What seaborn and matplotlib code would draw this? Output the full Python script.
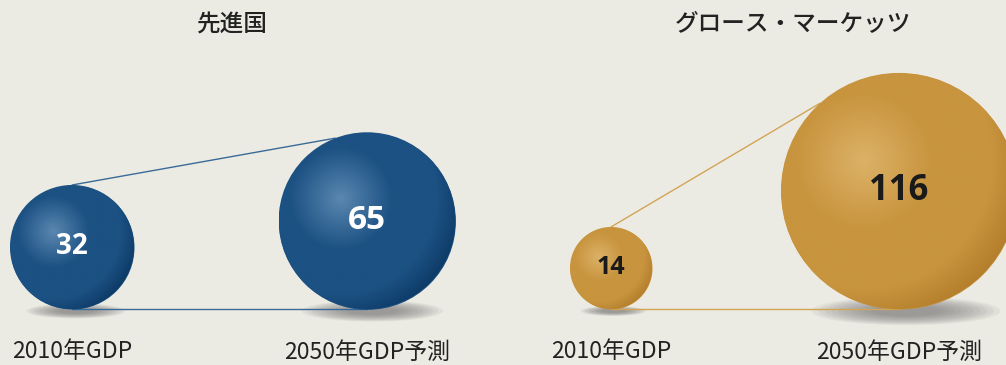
import numpy as np
import pandas as pd
import matplotlib
matplotlib.use("Agg")
import matplotlib.pyplot as plt
from matplotlib.patches import Circle, Ellipse
from matplotlib.colors import LinearSegmentedColormap
import seaborn as sns

# ---- data ----
regions = ["先進国", "グロース・マーケッツ"]
gdp_2010 = [32, 14]
gdp_2050 = [65, 116]
year_labels = ["2010年GDP", "2050年GDP予測"]

# ---- style / layout ----
sns.set_theme(style="white")
plt.rcParams['font.family'] = ['Noto Sans CJK JP', 'DejaVu Sans']

W, H = 1006, 365
bg = "#ecebe3"
centers_x = [[72, 367], [611, 899]]
baseline = 309
k = 62 / np.sqrt(32)          # pixel radius per sqrt(value) (area-proportional)
title_x = [232, 793]
title_y = 25
label_y = 352
num_sizes = [[20, 24], [18, 25]]
line_angles = [111, 132]      # where the connector meets the big circle (deg)
palettes = [
    dict(hi="#5a87b0", base="#1c5183", dark="#0b3762", line="#3a6a98", text="white"),
    dict(hi="#dcb267", base="#c8943e", dark="#b07a28", line="#d2a456", text="#1a1a1a"),
]

fig = plt.figure(figsize=(W / 100, H / 100), dpi=100)
fig.patch.set_facecolor(bg)
ax = fig.add_axes([0, 0, 1, 1])
ax.set_facecolor(bg)

df = pd.DataFrame({
    "region": np.repeat(regions, 2),
    "year": year_labels * 2,
    "value": [gdp_2010[0], gdp_2050[0], gdp_2010[1], gdp_2050[1]],
})


def shadow(cx, r):
    for i in range(10):
        f = 1 - i * 0.07
        ax.add_patch(Ellipse((cx + 0.06 * r, baseline + 2), 1.6 * r * f, 0.24 * r * f,
                             facecolor="#6a6a6a", edgecolor="none", alpha=0.085, zorder=1))


def sphere(cx, cy, r, pal, z):
    n = 300
    xs = np.linspace(cx - r, cx + r, n)
    ys = np.linspace(cy - r, cy + r, n)
    X, Y = np.meshgrid(xs, ys)
    hx, hy = cx - 0.3 * r, cy - 0.25 * r
    d = np.clip(np.hypot(X - hx, Y - hy) / (1.45 * r), 0, 1)
    cmap = LinearSegmentedColormap.from_list(
        "s", [(0, pal["hi"]), (0.4, pal["base"]), (0.75, pal["base"]), (1, pal["dark"])])
    im = ax.imshow(d, cmap=cmap, vmin=0, vmax=1, extent=(cx - r, cx + r, cy + r, cy - r),
                   origin="upper", zorder=z, interpolation="bilinear", aspect="auto")
    im.set_clip_path(Circle((cx, cy), r, transform=ax.transData))


for i, reg in enumerate(regions):
    pal = palettes[i]
    sub = df[df["region"] == reg].reset_index(drop=True)
    radii = k * np.sqrt(sub["value"].to_numpy())
    xs = centers_x[i]
    ys = [baseline - r for r in radii]

    # shadows
    for x, r in zip(xs, radii):
        shadow(x, r)

    # connector lines
    ang = np.deg2rad(line_angles[i])
    x0, y0 = xs[0], ys[0] - radii[0]
    x1, y1 = xs[1] + radii[1] * np.cos(ang), ys[1] - radii[1] * np.sin(ang)
    sns.lineplot(x=[x0, x1], y=[y0, y1], color=pal["line"], lw=1.0, ax=ax, zorder=2,
                 estimator=None, sort=False)
    sns.lineplot(x=[xs[0], xs[1]], y=[baseline, baseline], color=pal["line"], lw=1.0,
                 ax=ax, zorder=2, estimator=None, sort=False)

    # circles (base markers via seaborn, shaded overlay)
    for x, y, r in zip(xs, ys, radii):
        s = (2 * r * 72 / 100) ** 2
        sns.scatterplot(x=[x], y=[y], s=s, color=pal["base"], linewidth=0, ax=ax,
                        legend=False, zorder=3)
        sphere(x, y, r, pal, 4)

    # value labels
    for j, (x, y, v) in enumerate(zip(xs, ys, sub["value"])):
        ax.text(x, y, f"{v}", ha="center", va="center", fontsize=num_sizes[i][j],
                fontweight="bold", family=["Open Sans", "DejaVu Sans"],
                color=pal["text"], zorder=6)

    # year labels
    for x, lab in zip(xs, sub["year"]):
        ax.text(x, label_y, lab, ha="center", va="center", fontsize=16.5, color="#222222")

    # title
    ax.text(title_x[i], title_y, reg, ha="center", va="center", fontsize=17,
            fontweight="medium", color="#222222")

ax.set_xlim(0, W)
ax.set_ylim(H, 0)
ax.axis("off")
fig.savefig("out.png", dpi=100, facecolor=bg)
